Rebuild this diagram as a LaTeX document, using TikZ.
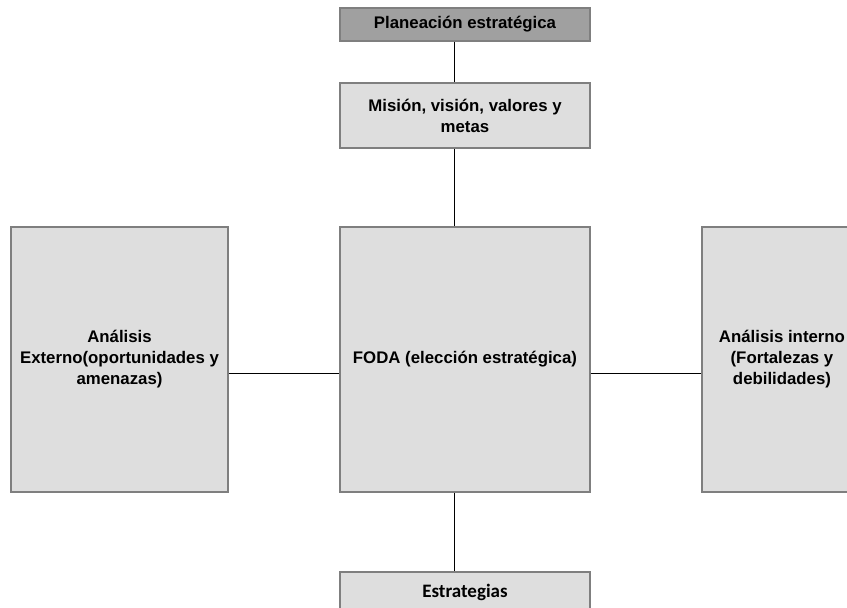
\documentclass[tikz,border=0pt]{standalone}
\usepackage{fontspec}
\setmainfont{Liberation Sans}
\newfontfamily\calibrifont{Carlito}
\definecolor{cajaoscura}{HTML}{A0A0A0}
\definecolor{cajaclara}{HTML}{DEDEDE}
\definecolor{borde}{HTML}{7F7F7F}

\begin{document}
\begin{tikzpicture}[x=1pt,y=-1pt,
    caja/.style={draw=borde,line width=1.2pt,fill=cajaclara,inner sep=0pt,align=center,
      font=\fontsize{16.8}{21}\selectfont\bfseries},
    enlace/.style={draw=black,line width=0.8pt}]
    % marco de la figura
    \useasboundingbox (0,0) rectangle (847,608);
    \clip (0,0) rectangle (847,608);

    % cajas de la columna central
    \node[caja,fill=cajaoscura,minimum width=250,minimum height=33] (plan) at (465,24.5) {Planeación estratégica};
    \node[caja,minimum width=250,minimum height=65] (mision) at (465,115.5) {Misión, visión, valores y\\metas};
    \node[caja,minimum width=250,minimum height=265] (foda) at (465,359.5) {FODA (elección estratégica)};
    \node[caja,minimum width=250,minimum height=40,font=\fontsize{19}{23}\selectfont\calibrifont\bfseries] (estrategias) at (465,592) {Estrategias};

    % cajas laterales
    \node[caja,minimum width=217,minimum height=265] (externo) at (119.5,359.5) {Análisis\\Externo(oportunidades y\\amenazas)};
    \node[caja,minimum width=160,minimum height=265] (interno) at (782,359.5) {Análisis interno\\(Fortalezas y\\debilidades)};

    % eje de los conectores
    \coordinate (eje) at (454,373);

    % conectores verticales
    \path[enlace] (plan.south -| eje) -- (mision.north -| eje);
    \path[enlace] (mision.south -| eje) -- (foda.north -| eje);
    \path[enlace] (foda.south -| eje) -- (estrategias.north -| eje);

    % conectores horizontales
    \path[enlace] (externo.east |- eje) -- (foda.west |- eje);
    \path[enlace] (foda.east |- eje) -- (interno.west |- eje);
\end{tikzpicture}
\end{document}
